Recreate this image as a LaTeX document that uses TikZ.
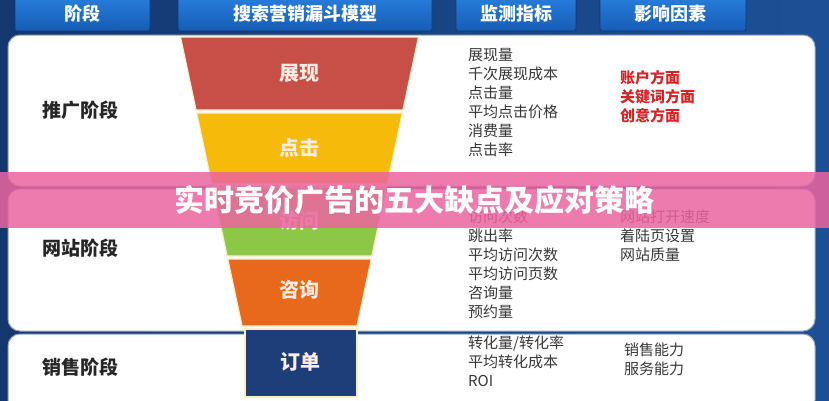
\documentclass[tikz,border=0pt]{standalone}
\usepackage{fontspec}
\setmainfont{Noto Sans CJK SC}
\usetikzlibrary{calc}
\definecolor{bgdark}{RGB}{20,55,112}
\definecolor{bglight}{RGB}{28,80,150}
\definecolor{hdrtop}{RGB}{40,125,220}
\definecolor{hdrbot}{RGB}{22,92,180}
\definecolor{fred}{RGB}{200,78,72}
\definecolor{fyellow}{RGB}{246,186,10}
\definecolor{fgreen}{RGB}{140,200,70}
\definecolor{forange}{RGB}{232,104,28}
\definecolor{fblue}{RGB}{30,62,122}
\definecolor{fedge}{RGB}{250,240,200}
\definecolor{ftext}{RGB}{252,236,226}
\definecolor{metric}{RGB}{55,55,55}
\definecolor{factred}{RGB}{215,35,40}
\definecolor{bannerpink}{RGB}{236,100,160}
\definecolor{panelline}{RGB}{150,165,185}
\tikzset{
  hdrbox/.style={rounded corners=2pt, top color=hdrtop, bottom color=hdrbot, draw=bgdark, line width=0.8pt},
  hdrtext/.style={text=white, font=\bfseries\fontsize{18}{18}\selectfont, inner sep=0pt},
  panel/.style={fill=white, draw=panelline, line width=1pt, rounded corners=12pt},
  stagetext/.style={text=black!85, font=\bfseries\fontsize{19}{19}\selectfont, inner sep=0pt},
  seg/.style={draw=fedge, line width=1.2pt},
  segtext/.style={text=ftext, font=\bfseries\fontsize{20}{20}\selectfont, inner sep=0pt},
  metrictext/.style={text=metric, font=\fontsize{15}{19}\selectfont, align=left, anchor=north west, inner sep=0pt},
  facttext/.style={text=factred, font=\bfseries\fontsize{15}{19}\selectfont, align=left, anchor=north west, inner sep=0pt},
  bannertext/.style={text=white, font=\bfseries\fontsize{30}{30}\selectfont, inner sep=0pt}
}
\newcommand{\funw}[1]{(119-0.213*(#1-37))}
\begin{document}
\begin{tikzpicture}[x=1pt,y=-1pt]
\useasboundingbox (0,0) rectangle (829,400);
% background
\shade[left color=bgdark, right color=bglight] (0,0) rectangle (829,400);
% header boxes
\draw[hdrbox] (15,-3) rectangle (150,31);
\draw[hdrbox] (178,-3) rectangle (432,31);
\draw[hdrbox] (456,-3) rectangle (576,31);
\draw[hdrbox] (600,-3) rectangle (746,31);
\node[hdrtext] (h1) at (82,14) {阶段};
\node[hdrtext] (h2) at (305,14) {搜索营销漏斗模型};
\node[hdrtext] (h3) at (516,14) {监测指标};
\node[hdrtext] (h4) at (670,14) {影响因素};
% panels
\draw[panel] (8,35) rectangle (815,186);
\draw[panel] (8,189) rectangle (815,331);
\draw[panel] (8,334) rectangle (815,412);
% funnel segments
\foreach \ya/\yb/\col in {37/110/fred, 113/184/fyellow, 187/256/fgreen, 259/326/forange}{
  \draw[seg, fill=\col] ({299.5-\funw{\ya}},\ya) -- ({299.5+\funw{\ya}},\ya)
     -- ({299.5+\funw{\yb}},\yb) -- ({299.5-\funw{\yb}},\yb) -- cycle;
}
\draw[seg, fill=fblue] (245,329) rectangle (357,397);
\node[segtext] (s1) at (299.5,73) {展现};
\node[segtext] (s2) at (299.5,148) {点击};
\node[segtext] (s3) at (299.5,221) {访问};
\node[segtext] (s4) at (299.5,290) {咨询};
\node[segtext] (s5) at (300,362) {订单};
% stage labels
\node[stagetext] (p1) at (80,110) {推广阶段};
\node[stagetext] (p2) at (80,248) {网站阶段};
\node[stagetext] (p3) at (80,367) {销售阶段};
% metrics
\node[metrictext] (m1) at (468,48) {展现量\\千次展现成本\\点击量\\平均点击价格\\消费量\\点击率};
\node[metrictext] (m2) at (468,210) {访问次数\\跳出率\\平均访问次数\\平均访问页数\\咨询量\\预约量};
\node[metrictext] (m3) at (468,336) {转化量/转化率\\平均转化成本\\ROI};
% factors
\node[facttext] (f1) at (620,70) {账户方面\\关键词方面\\创意方面};
\node[metrictext] (f2) at (620,210) {网站打开速度\\着陆页设置\\网站质量};
\node[metrictext] (f3) at (624,343) {销售能力\\服务能力};
% banner
\fill[bannerpink, fill opacity=0.85] (0,172) rectangle (829,228);
\node[bannertext] (title) at (414,200) {实时竞价广告的五大缺点及应对策略};
\end{tikzpicture}
\end{document}
